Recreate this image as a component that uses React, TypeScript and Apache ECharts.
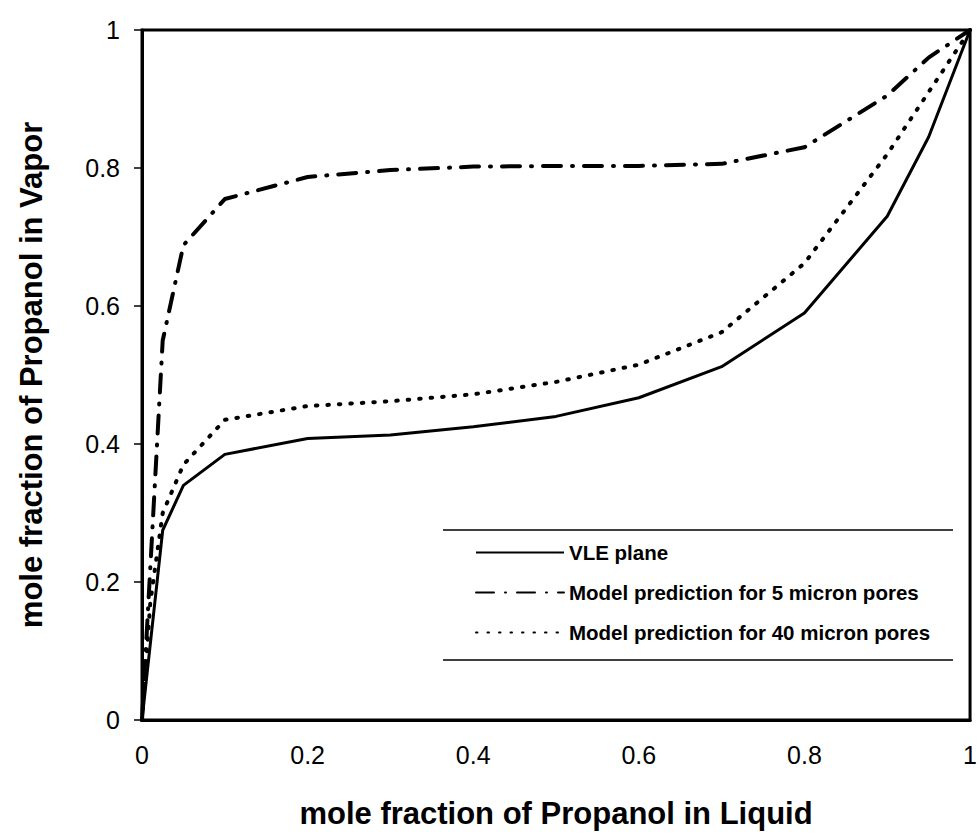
import React, { useEffect, useRef } from "react";
import * as echarts from "echarts";

// Liquid mole fraction of propanol (x axis)
const liquidX: number[] = [0, 0.01, 0.025, 0.05, 0.1, 0.2, 0.3, 0.4, 0.5, 0.6, 0.7, 0.8, 0.9, 0.95, 1];

// Vapor mole fraction of propanol for each curve
const vlePlane: number[] = [0, 0.11, 0.275, 0.34, 0.385, 0.408, 0.413, 0.425, 0.44, 0.467, 0.512, 0.59, 0.73, 0.845, 1];
const model5Micron: number[] = [0, 0.22, 0.55, 0.688, 0.755, 0.787, 0.797, 0.802, 0.803, 0.803, 0.806, 0.83, 0.905, 0.96, 1];
const model40Micron: number[] = [0, 0.17, 0.3, 0.37, 0.435, 0.455, 0.462, 0.472, 0.49, 0.515, 0.562, 0.662, 0.82, 0.91, 1];

const seriesNames: string[] = [
  "VLE plane",
  "Model prediction for 5 micron pores",
  "Model prediction for 40 micron pores",
];

const xAxisTitle = "mole fraction of Propanol in Liquid";
const yAxisTitle = "mole fraction of Propanol in Vapor";

const FONT = "'Liberation Sans', Arial, Helvetica, sans-serif";

const pairs = (ys: number[]) => liquidX.map((x, i) => [x, ys[i]]);

export default function App() {
  const ref = useRef<HTMLDivElement>(null);

  useEffect(() => {
    if (!ref.current) return;
    const chart = echarts.init(ref.current, undefined, { renderer: "svg" });

    const lineBase = { type: "line" as const, showSymbol: false, symbol: "none", smooth: false };

    chart.setOption({
      animation: false,
      backgroundColor: "#fff",
      grid: {
        left: 142,
        top: 30,
        right: 7,
        bottom: 116,
        show: true,
        borderColor: "#000",
        borderWidth: 3,
        backgroundColor: "transparent",
      },
      xAxis: {
        type: "value",
        min: 0,
        max: 1,
        interval: 0.2,
        name: xAxisTitle,
        nameLocation: "middle",
        nameGap: 78,
        nameTextStyle: { fontFamily: FONT, fontSize: 31, fontWeight: "bold", color: "#000" },
        axisLine: { show: true, lineStyle: { color: "#000", width: 3 } },
        axisTick: { show: false },
        splitLine: { show: false },
        axisLabel: { fontFamily: FONT, fontSize: 25, color: "#000", margin: 22 },
      },
      yAxis: {
        type: "value",
        min: 0,
        max: 1,
        interval: 0.2,
        name: yAxisTitle,
        nameLocation: "middle",
        nameGap: 95,
        nameTextStyle: { fontFamily: FONT, fontSize: 31, fontWeight: "bold", color: "#000" },
        axisLine: { show: true, lineStyle: { color: "#000", width: 3 } },
        axisTick: { show: true, length: 8, lineStyle: { color: "#000", width: 1.5 } },
        splitLine: { show: false },
        axisLabel: { fontFamily: FONT, fontSize: 25, color: "#000", margin: 22 },
      },
      legend: {
        orient: "vertical",
        left: 470,
        top: 537,
        itemWidth: 88,
        itemHeight: 14,
        itemGap: 19,
        itemStyle: { opacity: 0 },
        textStyle: { fontFamily: FONT, fontSize: 20.5, fontWeight: "bold", color: "#000", lineHeight: 20 },
        data: seriesNames,
      },
      graphic: [
        {
          type: "line",
          shape: { x1: 443, y1: 530, x2: 953, y2: 530 },
          style: { stroke: "#000", lineWidth: 1.5 },
        },
        {
          type: "line",
          shape: { x1: 443, y1: 660, x2: 953, y2: 660 },
          style: { stroke: "#000", lineWidth: 1.5 },
        },
      ],
      series: [
        {
          ...lineBase,
          name: seriesNames[0],
          data: pairs(vlePlane),
          lineStyle: { color: "#000", width: 3 },
          itemStyle: { color: "#000" },
        },
        {
          ...lineBase,
          name: seriesNames[1],
          data: pairs(model5Micron),
          lineStyle: { color: "#000", width: 4, type: [18, 11, 1, 11], cap: "round" },
          itemStyle: { color: "#000" },
        },
        {
          ...lineBase,
          name: seriesNames[2],
          data: pairs(model40Micron),
          lineStyle: { color: "#000", width: 4, type: [1.5, 10], cap: "round" },
          itemStyle: { color: "#000" },
        },
      ],
    });

    return () => chart.dispose();
  }, []);

  return (
    <div
      ref={ref}
      style={{ position: "fixed", left: 0, top: 0, width: 980, height: 836, background: "#fff" }}
    />
  );
}
